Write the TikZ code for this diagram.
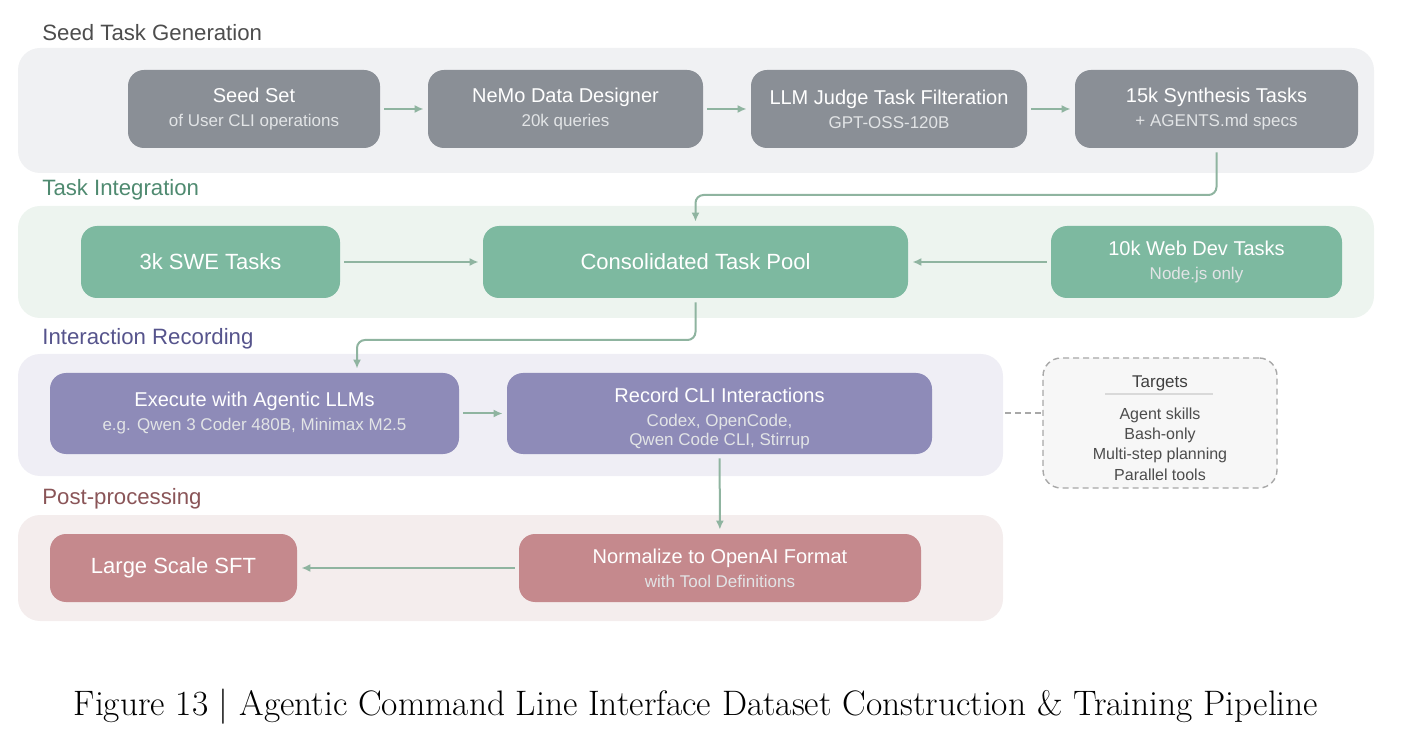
\documentclass[tikz,border=0pt]{standalone}
\usepackage{fontspec}
\newfontfamily\sansfam{Liberation Sans}
\usetikzlibrary{positioning,calc,arrows.meta}

\definecolor{seedfill}{HTML}{8A8F96}
\definecolor{seedband}{HTML}{F0F1F3}
\definecolor{seedtext}{HTML}{4D4D4D}
\definecolor{poolfill}{HTML}{7DB9A0}
\definecolor{poolband}{HTML}{EDF4EF}
\definecolor{pooltext}{HTML}{4F8A70}
\definecolor{recfill}{HTML}{8E8BB8}
\definecolor{recband}{HTML}{EFEEF5}
\definecolor{rectext}{HTML}{56548C}
\definecolor{postfill}{HTML}{C5898D}
\definecolor{postband}{HTML}{F4EDED}
\definecolor{posttext}{HTML}{8A5558}
\definecolor{flowcol}{HTML}{8FB4A0}
\definecolor{subtext}{HTML}{E2E4E6}
\definecolor{tgtline}{HTML}{A8A8A8}

\tikzset{
  stage/.style={rounded corners=8pt, text=white, align=center, inner sep=0pt,
    font=\sansfam\fontsize{10}{12}\selectfont},
  bigstage/.style={stage, font=\sansfam\fontsize{11}{13}\selectfont},
  seedbox/.style={stage, fill=seedfill, minimum height=39pt},
  poolbox/.style={stage, fill=poolfill, minimum height=36pt},
  recbox/.style={stage, fill=recfill, minimum height=40.5pt},
  postbox/.style={stage, fill=postfill, minimum height=34pt},
  band/.style={rounded corners=11pt},
  bandlabel/.style={anchor=west, inner sep=0pt, font=\sansfam\fontsize{11.1}{13}\selectfont},
  flow/.style={draw=flowcol, line width=1pt, -{Latex[length=4.5pt,width=4pt]},
    shorten <=2pt, shorten >=2pt},
  tgtbox/.style={draw=tgtline, dashed, dash pattern=on 3pt off 2pt, line width=0.7pt,
    fill=black!3, rounded corners=9pt},
  tgttext/.style={align=center, inner sep=0pt, text=black!70,
    font=\sansfam\fontsize{8}{10}\selectfont}
}
\newcommand{\subline}[1]{{\fontsize{8.5}{10}\selectfont\color{subtext}#1}}

\begin{document}
\begin{tikzpicture}[x=0.5pt,y=-0.5pt]
  \useasboundingbox (0,0) rectangle (1404,754);

  \fill[seedband, band] (18,48) rectangle (1374,173);
  \fill[poolband, band] (18,206) rectangle (1374,318);
  \fill[recband, band] (18,354) rectangle (1003,476);
  \fill[postband, band] (18,515) rectangle (1003,621);

  \node[bandlabel, text=seedtext] (lblseed) at (42,33) {Seed Task Generation};
  \node[bandlabel, text=pooltext] (lblpool) at (42,190) {Task Integration};
  \node[bandlabel, text=rectext] (lblrec) at (42,339) {Interaction Recording};
  \node[bandlabel, text=posttext] (lblpost) at (42,499) {Post-processing};

  \node[seedbox, minimum width=126pt] (seed) at (254,109)
    {Seed Set\\\subline{of User CLI operations}};
  \node[seedbox, minimum width=137.5pt] (nemo) at (565.5,109)
    {NeMo Data Designer\\\subline{20k queries}};
  \node[seedbox, minimum width=138pt] (judge) at (889,109)
    {LLM Judge Task Filteration\\\subline{GPT-OSS-120B}};
  \node[seedbox, minimum width=141.5pt] (synth) at (1216.5,109)
    {15k Synthesis Tasks\\\subline{+ AGENTS.md specs}};

  \node[poolbox, bigstage, minimum width=129.5pt] (swe) at (210.5,262) {3k SWE Tasks};
  \node[poolbox, bigstage, minimum width=212.5pt] (pool) at (695.5,262) {Consolidated Task Pool};
  \node[poolbox, minimum width=145.5pt] (web) at (1196.5,262)
    {10k Web Dev Tasks\\\subline{Node.js only}};

  \node[recbox, minimum width=204.5pt] (exec) at (254.5,413.5)
    {Execute with Agentic LLMs\\\subline{e.g. Qwen 3 Coder 480B, Minimax M2.5}};
  \node[recbox, minimum width=212.5pt] (record) at (719.5,413.5)
    {\rule{0pt}{12pt}Record CLI Interactions\\\subline{Codex, OpenCode,}\\[-2.5pt]\subline{Qwen Code CLI, Stirrup}};

  \node[postbox, bigstage, minimum width=123.5pt] (sft) at (173.5,568) {Large Scale SFT};
  \node[postbox, minimum width=201pt] (norm) at (720,568)
    {Normalize to OpenAI Format\\\subline{with Tool Definitions}};

  \node[tgtbox, minimum width=117pt, minimum height=65pt] (targets) at (1160,423) {};
  \node[tgttext, text=black!75, font=\sansfam\fontsize{8.5}{10}\selectfont] (tgthead) at (1160,383) {Targets};
  \draw[black!15, line width=1pt] (1105,394) -- (1213,394);
  \node[tgttext] (tgtlist) at (1160,444)
    {Agent skills\\[0.2pt]Bash-only\\[0.2pt]Multi-step planning\\[0.2pt]Parallel tools};

  \coordinate (jogA) at (0,195);
  \coordinate (jogB) at (0,340);
  \coordinate (recedge) at (1005,413);

  \draw[flow] (seed) -- (nemo);
  \draw[flow] (nemo) -- (judge);
  \draw[flow] (judge) -- (synth);
  \draw[flow, rounded corners=4pt] (synth.south) -- (synth.south |- jogA) -| (pool.north);
  \draw[flow] (swe) -- (pool);
  \draw[flow] (web) -- (pool);
  \draw[flow, rounded corners=4pt] (pool.south) -- (pool.south |- jogB) -| ($(exec.north)+(102.5,0)$);
  \draw[flow] (exec) -- (record);
  \draw[flow] (record) -- (norm);
  \draw[flow] (norm) -- (sft);
  \draw[tgtline, line width=0.7pt, dash pattern=on 3pt off 2pt] (recedge) -- (recedge -| targets.west);

  \node[inner sep=0pt, font=\fontsize{17.7}{21}\selectfont] (caption) at (696,707)
    {Figure 13 | Agentic Command Line Interface Dataset Construction \& Training Pipeline};
\end{tikzpicture}
\end{document}
